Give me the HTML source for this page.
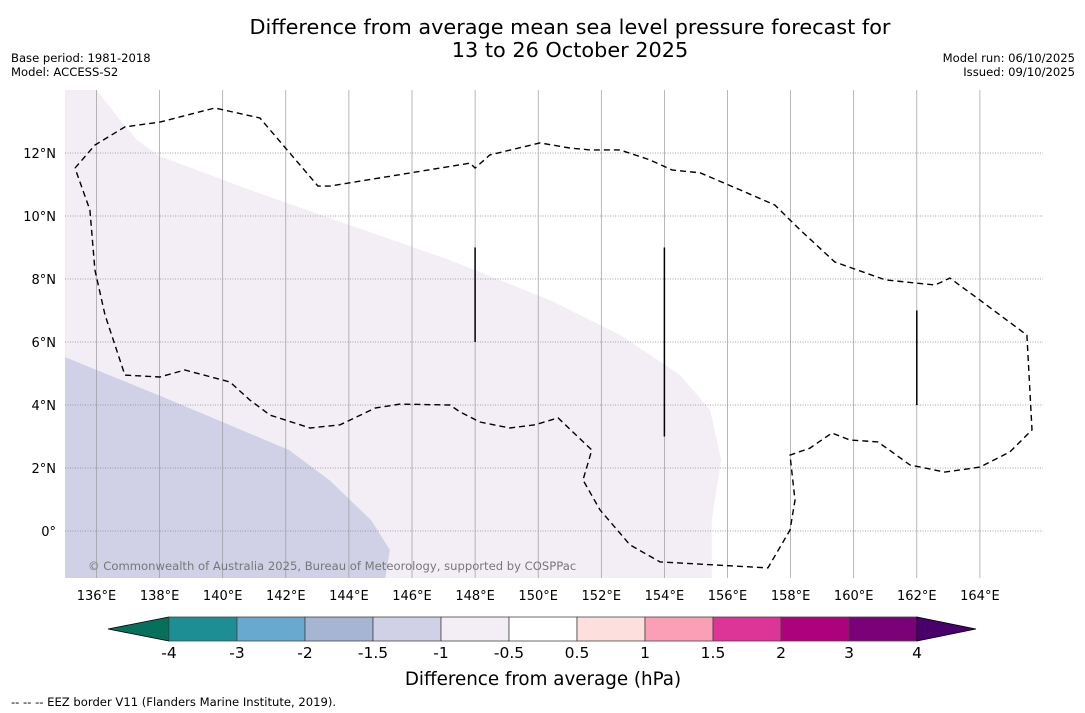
<!DOCTYPE html>
<html><head><meta charset="utf-8"><style>
body{margin:0;background:#fff;font-family:"DejaVu Sans","Liberation Sans",sans-serif;}
svg{display:block}
</style></head><body>
<svg id="c" width="1085" height="713" xmlns="http://www.w3.org/2000/svg">
<text x="570" y="34" font-size="20.8" text-anchor="middle">Difference from average mean sea level pressure forecast for</text>
<text x="570" y="57" font-size="20.8" text-anchor="middle">13 to 26 October 2025</text>
<text x="11" y="62" font-size="11.6">Base period: 1981-2018</text>
<text x="11" y="76" font-size="11.6">Model: ACCESS-S2</text>
<text x="1075" y="62" font-size="11.6" text-anchor="end">Model run: 06/10/2025</text>
<text x="1075" y="76" font-size="11.6" text-anchor="end">Issued: 09/10/2025</text>
<g id="map"></g>
<g id="cbar"></g>
<text x="543" y="685" font-size="18.3" text-anchor="middle">Difference from average (hPa)</text>
<text x="11" y="706" font-size="11.6">--  --  -- EEZ border V11 (Flanders Marine Institute, 2019).</text>
</svg>
<script>
const lonTicks=[136,138,140,142,144,146,148,150,152,154,156,158,160,162,164];
const latTicks=[0,2,4,6,8,10,12];
const regionM05Lon=[135,136.0,136.4,136.74,137.3,138.0,140.86,144.03,147.2,150.37,152.6,154.5,155.45,155.8,155.5,155.5,135];
const regionM05Lat=[14,14,13.5,13.05,12.4,11.9,10.83,9.71,8.6,7.33,6.22,4.95,3.84,2.25,0.35,-1.5,-1.5];
const regionM1Lon=[135,138,140.2,142.1,143.4,144.7,145.3,145.15,135];
const regionM1Lat=[5.52,4.3,3.37,2.57,1.6,0.35,-0.6,-1.5,-1.5];
const eezLon=[135.32,135.95,136.9,138.01,139.75,141.18,143.02,143.4,147.84,148.0,148.47,150.06,151.0,151.64,152.59,153.54,154.24,155.13,156.4,157.5,158.3,159.4,161.0,162.58,163.05,164.0,165.49,165.65,164.95,164.0,162.89,161.78,160.77,159.88,159.31,158.61,157.98,158.14,157.98,157.28,153.86,152.91,151.96,151.42,151.7,150.63,149.9,149.1,148.15,147.52,147.2,145.62,144.83,143.72,142.77,141.5,140.86,140.23,138.8,138.01,136.9,136.27,135.95,135.79,135.32];
const eezLat=[11.52,12.25,12.83,12.98,13.43,13.11,10.95,10.95,11.68,11.52,11.94,12.32,12.16,12.1,12.1,11.78,11.46,11.37,10.83,10.35,9.56,8.54,7.97,7.81,8.03,7.33,6.22,3.21,2.51,2.03,1.87,2.1,2.83,2.89,3.11,2.63,2.41,0.98,0.03,-1.17,-0.98,-0.44,0.67,1.62,2.57,3.59,3.37,3.27,3.46,3.78,4.0,4.03,3.9,3.37,3.27,3.68,4.16,4.73,5.11,4.89,4.95,6.86,8.29,10.19,11.52];
const barLon=[148,154,162];
const barLat0=[9,9,7];
const barLat1=[6,3,4];
const cbLabels=["-4","-3","-2","-1.5","-1","-0.5","0.5","1","1.5","2","3","4"];
const cbColors=["#1d8f94","#67a9cf","#a6b6d2","#d0d1e6","#f3eef6","#ffffff","#fde0dd","#fa9fb5","#dd3497","#ae017e","#7a0177"];
const cbLow="#06705c", cbHigh="#49006a";

const X0=65,X1=1043,Y0=90,Y1=578;
const sx=l=>96.5+(l-136)*31.55;
const sy=l=>531-l*31.5;
const NS="http://www.w3.org/2000/svg";
const map=document.getElementById('map');
function mk(tag,attrs,parent){const e=document.createElementNS(NS,tag);for(const k in attrs)e.setAttribute(k,attrs[k]);parent.appendChild(e);return e;}
function pts(lo,la){return lo.map((v,i)=>sx(v).toFixed(1)+','+sy(la[i]).toFixed(1)).join(' ');}
const clip=mk('clipPath',{id:'clp'},map);mk('rect',{x:X0,y:Y0,width:X1-X0,height:Y1-Y0},clip);
const g=mk('g',{'clip-path':'url(#clp)'},map);
let r=mk('polygon',{points:pts(regionM05Lon,regionM05Lat),fill:'#f3eef6'},g);


r=mk('polygon',{points:pts(regionM1Lon,regionM1Lat),fill:'#d0d1e6'},g);


lonTicks.forEach(l=>{
 const ln=mk('line',{x1:sx(l),x2:sx(l),y1:Y0,y2:Y1,stroke:'#999','stroke-width':0.7},g);
 
 
 const t=mk('text',{x:sx(l),y:600,'font-size':13,'text-anchor':'middle'},map);t.textContent=l+'°E';
 
 
});
latTicks.forEach(l=>{
 const ln=mk('line',{x1:X0,x2:X1,y1:sy(l),y2:sy(l),stroke:'#888','stroke-width':0.8,'stroke-dasharray':'1,1.5'},g);
 
 
 const t=mk('text',{x:56,y:sy(l)+5,'font-size':13,'text-anchor':'end'},map);t.textContent=l===0?'0°':l+'°N';
 
 
});
r=mk('polyline',{points:pts(eezLon,eezLat),fill:'none',stroke:'#000','stroke-width':1.4,'stroke-dasharray':'6,4'},g);


barLon.forEach((l,i)=>{
 const ln=mk('line',{x1:sx(l),x2:sx(l),y1:sy(barLat0[i]),y2:sy(barLat1[i]),stroke:'#000','stroke-width':1.5},g);
 
 
});
r=mk('text',{x:88,y:570,'font-size':11.6,fill:'#777'},map);r.textContent='© Commonwealth of Australia 2025, Bureau of Meteorology, supported by COSPPac';



const cb=document.getElementById('cbar');
const bx0=169,bw=68,by=617,bh=24;
r=mk('polygon',{points:`108,${by+bh/2} ${bx0},${by} ${bx0},${by+bh}`,fill:cbLow,stroke:'#000','stroke-width':0.8},cb);


cbColors.forEach((c,i)=>{
 const b=mk('rect',{x:bx0+i*bw,y:by,width:bw,height:bh,fill:c,stroke:'#444','stroke-width':0.8},cb);
 
 
});
const bxe=bx0+cbColors.length*bw;
r=mk('polygon',{points:`${bxe},${by} ${bxe+59},${by+bh/2} ${bxe},${by+bh}`,fill:cbHigh,stroke:'#000','stroke-width':0.8},cb);


cbLabels.forEach((s,i)=>{
 const t=mk('text',{x:bx0+i*bw,y:658,'font-size':15.5,'text-anchor':'middle'},cb);t.textContent=s;
 
 
});
</script>
</body></html>
